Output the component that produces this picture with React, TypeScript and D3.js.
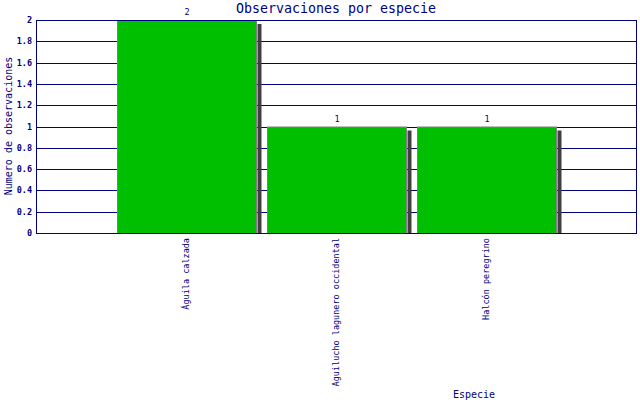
import { useEffect, useRef } from 'react';
import * as d3 from 'd3';

const species = ['Águila calzada', 'Aguilucho lagunero occidental', 'Halcón peregrino'];
const counts = [2, 1, 1];
const yTicks = [0, 0.2, 0.4, 0.6, 0.8, 1, 1.2, 1.4, 1.6, 1.8, 2];

const W = 640;
const H = 400;
const NAVY = '#000080';
const MONO = 'DejaVu Sans Mono, monospace';

export default function App() {
    const svgRef = useRef<SVGSVGElement>(null);

    useEffect(() => {
        if (!svgRef.current) return;
        document.body.style.margin = '0';

        const svg = d3.select(svgRef.current);
        svg.selectAll('*').remove();

        const left = 36, right = 636, top = 20, bottom = 233;

        // x positions 1..n on a 0..n+1 scale, like the original
        const x = d3.scaleLinear().domain([0, species.length + 1]).range([left + 1, right + 1]);
        const y = d3.scaleLinear().domain([0, 2]).range([bottom, top]);
        const barW = 139;

        svg.append('rect')
            .attr('width', W).attr('height', H).attr('fill', '#fff');

        // grid
        svg.append('g')
            .selectAll('line')
            .data(yTicks)
            .join('line')
            .attr('x1', left).attr('x2', right)
            .attr('y1', d => Math.round(y(d)) + 0.5)
            .attr('y2', d => Math.round(y(d)) + 0.5)
            .attr('stroke', NAVY);

        // tick labels
        svg.append('g')
            .selectAll('text')
            .data(yTicks)
            .join('text')
            .attr('x', left - 4)
            .attr('y', d => y(d) + 3)
            .attr('text-anchor', 'end')
            .style('font-family', MONO)
            .style('font-size', '8.5px')
            .style('font-weight', 'bold')
            .style('fill', NAVY)
            .text(d => d3.format('~g')(d));

        const bars = svg.append('g')
            .selectAll('g')
            .data(species.map((s, i) => ({ s, v: counts[i], i })))
            .join('g');

        // shadows
        bars.append('rect')
            .attr('x', d => x(d.i + 1) + barW / 2 + 1)
            .attr('y', d => y(d.v) + 4)
            .attr('width', 4)
            .attr('height', d => bottom - y(d.v) - 4)
            .attr('fill', '#404040');

        bars.append('rect')
            .attr('x', d => x(d.i + 1) - barW / 2)
            .attr('y', d => y(d.v) + 0.5)
            .attr('width', barW)
            .attr('height', d => bottom - y(d.v))
            .attr('fill', '#00bf00')
            .attr('stroke', '#808080');

        // value labels
        bars.append('text')
            .attr('x', d => x(d.i + 1))
            .attr('y', d => y(d.v) - 5)
            .attr('text-anchor', 'middle')
            .style('font-family', MONO)
            .style('font-size', '8.5px')
            .style('fill', NAVY)
            .text(d => d.v);

        // category labels
        bars.append('text')
            .attr('transform', d => `translate(${x(d.i + 1) + 2},${bottom + 5}) rotate(-90)`)
            .attr('text-anchor', 'end')
            .style('font-family', MONO)
            .style('font-size', '8.5px')
            .style('fill', NAVY)
            .text(d => d.s);

        // frame
        svg.append('rect')
            .attr('x', left + 0.5).attr('y', top + 0.5)
            .attr('width', right - left).attr('height', bottom - top)
            .attr('fill', 'none')
            .attr('stroke', NAVY);

        svg.append('text')
            .attr('x', 336).attr('y', 13)
            .attr('text-anchor', 'middle')
            .style('font-family', MONO)
            .style('font-size', '13.3px')
            .style('fill', NAVY)
            .text('Observaciones por especie');

        svg.append('text')
            .attr('transform', `translate(12,126) rotate(-90)`)
            .attr('text-anchor', 'middle')
            .style('font-family', MONO)
            .style('font-size', '10px')
            .style('fill', NAVY)
            .text('Numero de observaciones');

        svg.append('text')
            .attr('x', 474).attr('y', 398)
            .attr('text-anchor', 'middle')
            .style('font-family', MONO)
            .style('font-size', '10px')
            .style('fill', NAVY)
            .text('Especie');
    }, []);

    return <svg ref={svgRef} width={W} height={H} style={{ display: 'block' }} />;
}
